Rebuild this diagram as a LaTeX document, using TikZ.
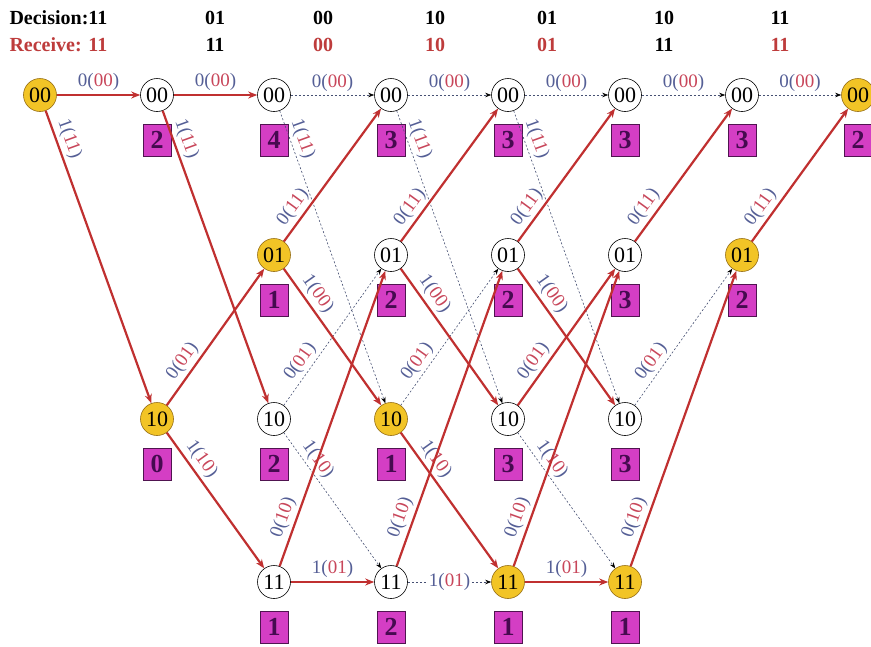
\documentclass[tikz,border=0pt]{standalone}
\usepackage{fontspec}
\setmainfont{Liberation Serif}
\usetikzlibrary{arrows.meta}
\definecolor{redline}{RGB}{192,48,48}
\definecolor{dashc}{RGB}{70,80,115}
\definecolor{yel}{RGB}{242,196,38}
\definecolor{yelb}{RGB}{150,110,20}
\definecolor{boxc}{RGB}{212,62,196}
\definecolor{boxb}{RGB}{80,20,80}
\definecolor{boxt}{RGB}{70,10,80}
\definecolor{lblue}{RGB}{85,95,150}
\definecolor{lred}{RGB}{200,70,90}
\definecolor{recv}{RGB}{190,60,60}
\newcommand{\elab}[2]{\textcolor{lblue}{#1(}\textcolor{lred}{#2}\textcolor{lblue}{)}}
\begin{document}
\begin{tikzpicture}[x=1pt,y=-1pt,
  st/.style={circle, draw=black, line width=0.6pt, fill=white, minimum size=33pt, inner sep=0pt, font=\fontsize{22}{22}\selectfont},
  sty/.style={st, fill=yel, draw=yelb},
  metric/.style={rectangle, draw=boxb, line width=0.8pt, fill=boxc, minimum width=28pt, minimum height=32pt, inner sep=0pt, text=boxt, font=\fontsize{26}{26}\selectfont\bfseries},
  surv/.style={draw=redline, line width=2.2pt, -{Stealth[length=9pt,width=7pt]}},
  cand/.style={draw=dashc, line width=0.6pt, dash pattern=on 2pt off 2pt, -{Stealth[length=6pt,width=4.5pt,black]}},
  lbl/.style={font=\fontsize{19}{19}\selectfont, sloped, above, inner sep=3pt},
  hdr/.style={font=\fontsize{20}{20}\selectfont\bfseries}
]
\useasboundingbox (0,0) rectangle (871,646);
\fill[white] (0,0) rectangle (871,646);
% header
\node[hdr, anchor=west] (dec) at (6,18) {Decision:11};
\node[hdr, anchor=west, text=recv] (rec) at (6,45) {Receive: 11};
\node[hdr] (d1) at (215,18) {01};
\node[hdr] (d2) at (323,18) {00};
\node[hdr] (d3) at (435,18) {10};
\node[hdr] (d4) at (547,18) {01};
\node[hdr] (d5) at (664,18) {10};
\node[hdr] (d6) at (780,18) {11};
\node[hdr] (r1) at (215,45) {11};
\node[hdr, text=recv] (r2) at (323,45) {00};
\node[hdr, text=recv] (r3) at (435,45) {10};
\node[hdr, text=recv] (r4) at (547,45) {01};
\node[hdr] (r5) at (664,45) {11};
\node[hdr, text=recv] (r6) at (780,45) {11};
% states
\node[sty] (A0) at (40,95) {00};
\node[st] (A1) at (157,95) {00};
\node[st] (A2) at (274,95) {00};
\node[st] (A3) at (391,95) {00};
\node[st] (A4) at (508,95) {00};
\node[st] (A5) at (625,95) {00};
\node[st] (A6) at (742,95) {00};
\node[sty] (A7) at (858,95) {00};
\node[sty] (B2) at (274,255) {01};
\node[st] (B3) at (391,255) {01};
\node[st] (B4) at (508,255) {01};
\node[st] (B5) at (625,255) {01};
\node[sty] (B6) at (742,255) {01};
\node[sty] (C1) at (157,419) {10};
\node[st] (C2) at (274,419) {10};
\node[sty] (C3) at (391,419) {10};
\node[st] (C4) at (508,419) {10};
\node[st] (C5) at (625,419) {10};
\node[st] (D2) at (274,582) {11};
\node[st] (D3) at (391,582) {11};
\node[sty] (D4) at (508,582) {11};
\node[sty] (D5) at (625,582) {11};
% metrics
\node[metric] (mA1) at (157,140) {2};
\node[metric] (mA2) at (274,140) {4};
\node[metric] (mA3) at (391,140) {3};
\node[metric] (mA4) at (508,140) {3};
\node[metric] (mA5) at (625,140) {3};
\node[metric] (mA6) at (742,140) {3};
\node[metric] (mA7) at (858,140) {2};
\node[metric] (mB2) at (274,300) {1};
\node[metric] (mB3) at (391,300) {2};
\node[metric] (mB4) at (508,300) {2};
\node[metric] (mB5) at (625,300) {3};
\node[metric] (mB6) at (742,300) {2};
\node[metric] (mC1) at (157,464) {0};
\node[metric] (mC2) at (274,464) {2};
\node[metric] (mC3) at (391,464) {1};
\node[metric] (mC4) at (508,464) {3};
\node[metric] (mC5) at (625,464) {3};
\node[metric] (mD2) at (274,627) {1};
\node[metric] (mD3) at (391,627) {2};
\node[metric] (mD4) at (508,627) {1};
\node[metric] (mD5) at (625,627) {1};
% candidate (dashed) branches
\draw[cand] (A2) -- node[lbl, pos=0.5]{\elab{0}{00}} (A3);
\draw[cand] (A2) -- node[lbl, pos=0.11]{\elab{1}{11}} (C3);
\draw[cand] (C2) -- node[lbl, pos=0.27]{\elab{0}{01}} (B3);
\draw[cand] (C2) -- node[lbl, pos=0.25]{\elab{1}{10}} (D3);
\draw[cand] (A3) -- node[lbl, pos=0.5]{\elab{0}{00}} (A4);
\draw[cand] (A3) -- node[lbl, pos=0.11]{\elab{1}{11}} (C4);
\draw[cand] (C3) -- node[lbl, pos=0.27]{\elab{0}{01}} (B4);
\draw[cand] (D3) -- node[font=\fontsize{19}{19}\selectfont, fill=white, inner sep=1pt, pos=0.5]{\elab{1}{01}} (D4);
\draw[cand] (A4) -- node[lbl, pos=0.5]{\elab{0}{00}} (A5);
\draw[cand] (A4) -- node[lbl, pos=0.11]{\elab{1}{11}} (C5);
\draw[cand] (C4) -- node[lbl, pos=0.25]{\elab{1}{10}} (D5);
\draw[cand] (A5) -- node[lbl, pos=0.5]{\elab{0}{00}} (A6);
\draw[cand] (C5) -- node[lbl, pos=0.27]{\elab{0}{01}} (B6);
\draw[cand] (A6) -- node[lbl, pos=0.5]{\elab{0}{00}} (A7);
% survivor (red) branches
\draw[surv] (A0) -- node[lbl, pos=0.5]{\elab{0}{00}} (A1);
\draw[surv] (A0) -- node[lbl, pos=0.11]{\elab{1}{11}} (C1);
\draw[surv] (A1) -- node[lbl, pos=0.5]{\elab{0}{00}} (A2);
\draw[surv] (A1) -- node[lbl, pos=0.11]{\elab{1}{11}} (C2);
\draw[surv] (C1) -- node[lbl, pos=0.27]{\elab{0}{01}} (B2);
\draw[surv] (C1) -- node[lbl, pos=0.25]{\elab{1}{10}} (D2);
\draw[surv] (B2) -- node[lbl, pos=0.2]{\elab{0}{11}} (A3);
\draw[surv] (B2) -- node[lbl, pos=0.24]{\elab{1}{00}} (C3);
\draw[surv] (D2) -- node[lbl, pos=0.15]{\elab{0}{10}} (B3);
\draw[surv] (D2) -- node[lbl, pos=0.5]{\elab{1}{01}} (D3);
\draw[surv] (B3) -- node[lbl, pos=0.2]{\elab{0}{11}} (A4);
\draw[surv] (B3) -- node[lbl, pos=0.24]{\elab{1}{00}} (C4);
\draw[surv] (C3) -- node[lbl, pos=0.25]{\elab{1}{10}} (D4);
\draw[surv] (D3) -- node[lbl, pos=0.15]{\elab{0}{10}} (B4);
\draw[surv] (B4) -- node[lbl, pos=0.2]{\elab{0}{11}} (A5);
\draw[surv] (B4) -- node[lbl, pos=0.24]{\elab{1}{00}} (C5);
\draw[surv] (C4) -- node[lbl, pos=0.27]{\elab{0}{01}} (B5);
\draw[surv] (D4) -- node[lbl, pos=0.15]{\elab{0}{10}} (B5);
\draw[surv] (D4) -- node[lbl, pos=0.5]{\elab{1}{01}} (D5);
\draw[surv] (B5) -- node[lbl, pos=0.2]{\elab{0}{11}} (A6);
\draw[surv] (D5) -- node[lbl, pos=0.15]{\elab{0}{10}} (B6);
\draw[surv] (B6) -- node[lbl, pos=0.2]{\elab{0}{11}} (A7);
\end{tikzpicture}
\end{document}
